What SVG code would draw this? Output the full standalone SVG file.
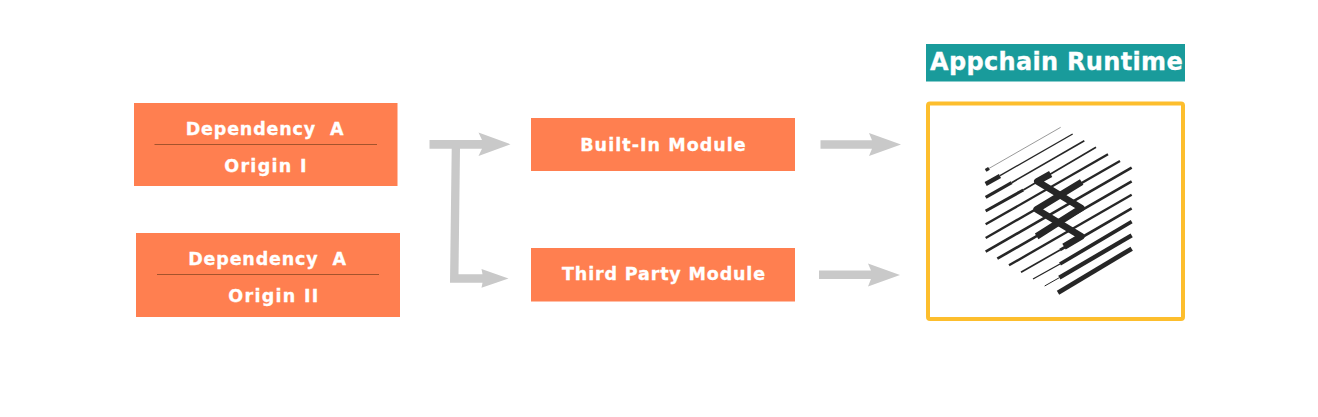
<svg xmlns="http://www.w3.org/2000/svg" width="1318" height="417" viewBox="0 0 1318 417">
<style>
.box{fill:#ff7f50}
.t{font-family:"DejaVu Sans",sans-serif;font-weight:700;font-size:17.5px;fill:#fff;stroke:#fff;stroke-width:.3px;text-anchor:middle;white-space:pre}
.dep{letter-spacing:.85px}
.org{letter-spacing:1.3px}
.div{stroke:#a4532c;stroke-width:1;fill:none}
.arr{fill:#c9c9c9}
.l{stroke:#262626;fill:none}
</style>
<rect width="1318" height="417" fill="#fff"/>
<g id="connectors">
<polygon class="arr" points="429.5,140 482,140 478.5,132.5 510.5,144.3 478.5,156 482,148.7 460,148.7 458.500,274.300 482.500,274.300 481.500,269 508.500,278.400 481.500,287.800 482.500,282.700 450,282.700 451.700,148.700 429.500,148.700"/>
<polygon class="arr" points="820.500,140.300 872,140.300 869,133 901,144.500 869,156 872,148.800 820.500,148.800"/>
<polygon class="arr" points="819,270.500 871,270.500 868,263.500 900,275 868,286.500 871,279 819,279"/>
</g>
<g id="dep-a-1">
<rect class="box" x="134" y="103" width="263.500" height="83"/>
<text class="t dep" x="265" y="135">Dependency  A</text>
<line class="div" x1="154.500" y1="144.500" x2="377" y2="144.500"/>
<text class="t org" x="266" y="172">Origin I</text>
</g>
<g id="dep-a-2">
<rect class="box" x="136" y="233" width="264" height="84"/>
<text class="t dep" x="267.500" y="265">Dependency  A</text>
<line class="div" x1="157" y1="274.500" x2="379" y2="274.500"/>
<text class="t org" x="274" y="302">Origin II</text>
</g>
<g id="built-in">
<rect class="box" x="531" y="118" width="264" height="53"/>
<text class="t" x="663.500" y="151" style="letter-spacing:1.05px">Built-In Module</text>
</g>
<g id="third-party">
<rect class="box" x="531" y="248" width="264" height="53.500"/>
<text class="t" x="664" y="279.500" style="letter-spacing:.85px">Third Party Module</text>
</g>
<g id="runtime">
<rect x="926" y="44" width="259" height="37.500" fill="#199b9b"/>
<text x="1056.500" y="70" style="font-family:'DejaVu Sans',sans-serif;font-weight:700;font-size:24px;letter-spacing:.33px;fill:#fff;stroke:#fff;stroke-width:.3px;text-anchor:middle">Appchain Runtime</text>
<rect x="928" y="103.500" width="255" height="215.500" rx="2" fill="#fff" stroke="#fdbe2d" stroke-width="4"/>
<g transform="translate(960 110) scale(.33333)">
<g class="l">
<path d="M77 181L302 52" stroke-width="2" stroke="#666"/>
<path d="M77 181L87 175" stroke-width="10"/>
<path d="M120 197L338 72" stroke-width="4"/>
<path d="M77 222L120 198" stroke-width="13"/>
<path d="M155 218L373 92" stroke-width="5"/>
<path d="M77 262L155 218" stroke-width="10"/>
<path d="M190 240L408 112" stroke-width="5"/>
<path d="M77 303L190 240" stroke-width="9"/>
<path d="M77 343L444 133" stroke-width="7"/>
<path d="M77 384L480 153" stroke-width="7"/>
<path d="M77 425L515 173" stroke-width="8"/>
<path d="M112 446L515 214" stroke-width="8"/>
<path d="M147 466L515 254" stroke-width="7"/>
<path d="M183 487L300 420" stroke-width="5"/>
<path d="M300 420L515 295" stroke-width="8"/>
<path d="M219 507L300 462" stroke-width="4"/>
<path d="M300 462L515 335" stroke-width="11"/>
<path d="M254 528L298 503" stroke-width="3"/>
<path d="M298 503L515 376" stroke-width="13"/>
<path d="M294 548L515 416" stroke-width="14"/>
<path d="M272 192L232 214L364 294L230 379" stroke-width="20" stroke-linejoin="round"/>
<path d="M365 216L230 298L364 379L312 410" stroke-width="20" stroke-linejoin="round"/>
</g>
</g>
</g>
</svg>
